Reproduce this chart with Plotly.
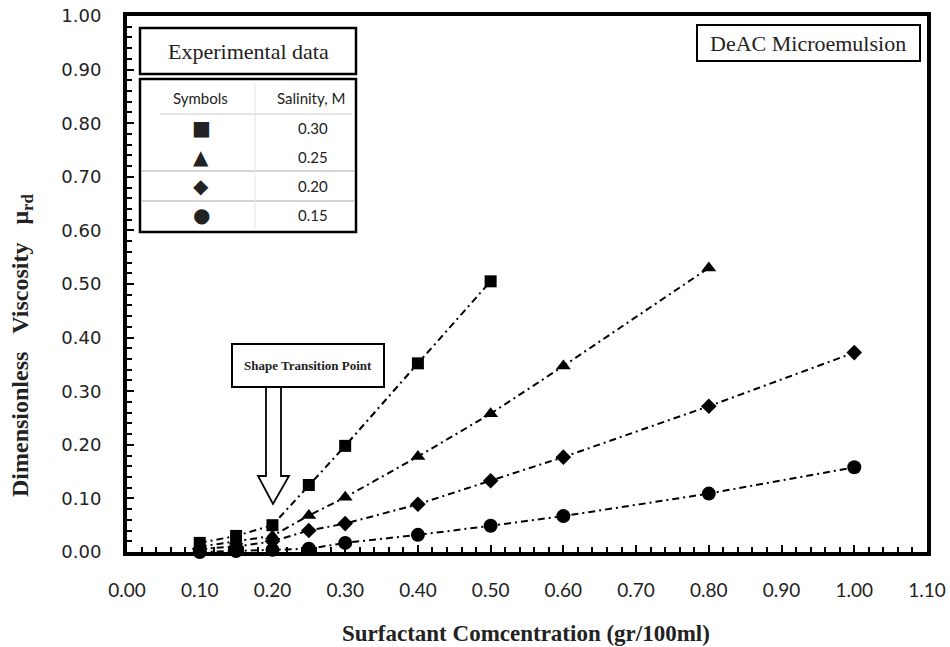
import plotly.graph_objects as go

# ---- data ----
x_030 = [0.10, 0.15, 0.20, 0.25, 0.30, 0.40, 0.50]
y_030 = [0.017, 0.030, 0.050, 0.125, 0.198, 0.352, 0.505]

x_025 = [0.10, 0.15, 0.20, 0.25, 0.30, 0.40, 0.50, 0.60, 0.80]
y_025 = [0.010, 0.020, 0.030, 0.068, 0.102, 0.178, 0.258, 0.347, 0.530]

x_020 = [0.10, 0.15, 0.20, 0.25, 0.30, 0.40, 0.50, 0.60, 0.80, 1.00]
y_020 = [0.006, 0.010, 0.020, 0.040, 0.053, 0.089, 0.133, 0.177, 0.272, 0.372]

x_015 = [0.10, 0.15, 0.20, 0.25, 0.30, 0.40, 0.50, 0.60, 0.80, 1.00]
y_015 = [0.000, 0.002, 0.004, 0.006, 0.017, 0.032, 0.049, 0.067, 0.109, 0.158]

salinity_labels = ["0.30", "0.25", "0.20", "0.15"]
symbols = ["square", "triangle-up", "diamond", "circle"]
symbol_chars = ["■", "▲", "◆", "●"]
x_ticks = [0.0, 0.1, 0.2, 0.3, 0.4, 0.5, 0.6, 0.7, 0.8, 0.9, 1.0, 1.1]
y_ticks = [0.0, 0.1, 0.2, 0.3, 0.4, 0.5, 0.6, 0.7, 0.8, 0.9, 1.0]

W, H = 950, 647
L, R, T, B = 127, 23, 16, 95
pw, ph = W - L - R, H - T - B


def px(x):
    return (x - L) / pw


def py(y):
    return (H - B - y) / ph


fig = go.Figure()
series = [(x_030, y_030), (x_025, y_025), (x_020, y_020), (x_015, y_015)]
sizes = [12, 13, 12, 14]
for (xs, ys), sym, sz, lab in zip(series, symbols, sizes, salinity_labels):
    fig.add_trace(go.Scatter(
        x=xs, y=ys, mode="lines+markers", name=lab,
        line=dict(color="black", width=2, dash="7px,4px,2px,4px"),
        marker=dict(symbol=sym, size=sz, color="black"),
        cliponaxis=False,
    ))

serif = "Liberation Serif, Times New Roman, serif"

fig.update_xaxes(
    range=[0, 1.1], tickvals=x_ticks, ticktext=[f"{v:.2f}" for v in x_ticks],
    ticks="inside", ticklen=7, tickwidth=2, tickcolor="black",
    minor=dict(ticks="inside", ticklen=5, tickwidth=2, tickcolor="black", dtick=0.02),
    showline=True, linewidth=4, linecolor="black", mirror=True,
    showgrid=False, zeroline=False, ticklabelstandoff=18, automargin=False,
    tickfont=dict(family="Lato, sans-serif", size=19, color="#222"),
)
fig.update_yaxes(
    range=[0, 1.0], tickvals=y_ticks, ticktext=[f"{v:.2f}" for v in y_ticks],
    ticks="inside", ticklen=7, tickwidth=2, tickcolor="black",
    minor=dict(ticks="inside", ticklen=5, tickwidth=2, tickcolor="black", dtick=0.02),
    showline=True, linewidth=4, linecolor="black", mirror=True,
    showgrid=False, zeroline=False, ticklabelstandoff=18, automargin=False,
    tickfont=dict(family="DejaVu Sans, sans-serif", size=18, color="#222"),
)

shapes = []
# Experimental data box
shapes.append(dict(type="rect", xref="paper", yref="paper",
                   x0=px(140), x1=px(356), y0=py(74), y1=py(28),
                   line=dict(color="black", width=2.5), fillcolor="white"))
# table box
shapes.append(dict(type="rect", xref="paper", yref="paper",
                   x0=px(140), x1=px(356), y0=py(232), y1=py(79),
                   line=dict(color="black", width=2.5), fillcolor="white"))
# table inner lines
shapes.append(dict(type="line", xref="paper", yref="paper",
                   x0=px(160), x1=px(352), y0=py(114), y1=py(114),
                   line=dict(color="#cccccc", width=1)))
for yy in [171, 201]:
    shapes.append(dict(type="line", xref="paper", yref="paper",
                       x0=px(142), x1=px(354), y0=py(yy), y1=py(yy),
                       line=dict(color="#aaaaaa", width=1)))
shapes.append(dict(type="line", xref="paper", yref="paper",
                   x0=px(255), x1=px(255), y0=py(83), y1=py(229),
                   line=dict(color="#e4e4e4", width=1)))
# DeAC box
shapes.append(dict(type="rect", xref="paper", yref="paper",
                   x0=px(697), x1=px(920), y0=py(61), y1=py(25),
                   line=dict(color="black", width=2), fillcolor="white"))
# Shape transition box
shapes.append(dict(type="rect", xref="paper", yref="paper",
                   x0=px(232), x1=px(384), y0=py(387), y1=py(344),
                   line=dict(color="black", width=2), fillcolor="white"))
# Hollow arrow
pts = [(266, 387), (281, 387), (281, 476), (289, 476), (273, 504),
       (258, 476), (266, 476)]
path = "M " + " L ".join(f"{px(a):.5f},{py(b):.5f}" for a, b in pts) + " Z"
shapes.append(dict(type="path", xref="paper", yref="paper", path=path,
                   line=dict(color="black", width=1.8), fillcolor="white"))


def note(xp, yp, text, family, size, angle=0):
    return dict(x=px(xp), y=py(yp), xref="paper", yref="paper", text=text,
                showarrow=False, xanchor="center", yanchor="middle", textangle=angle,
                font=dict(family=family, size=size, color="#222"))


annotations = [
    note(526, 633, "<b>Surfactant Comcentration (gr/100ml)</b>", serif, 23),
    note(22, 345, "<b>Dimensionless&nbsp;&nbsp;&nbsp;Viscosity&nbsp;&nbsp;&nbsp;μ<sub>rd</sub></b>",
         serif, 24, angle=-90),
    note(248, 51, "Experimental data", serif, 22),
    note(808, 43, "DeAC Microemulsion", serif, 22),
    note(308, 365, "<b>Shape Transition Point</b>", serif, 13),
    note(200, 98, "Symbols", "Lato, sans-serif", 15),
    note(311, 98, "Salinity, M", "Lato, sans-serif", 15),
]
row_y = [128, 157, 186, 215]
for ch, lab, yy in zip(symbol_chars, salinity_labels, row_y):
    annotations.append(note(201, yy, ch, "DejaVu Sans", 20))
    annotations.append(note(313, yy, lab, "Lato, sans-serif", 15))

fig.update_layout(
    width=W, height=H, margin=dict(l=L, r=R, t=T, b=B, autoexpand=False),
    paper_bgcolor="white", plot_bgcolor="white", showlegend=False,
    shapes=shapes, annotations=annotations,
)

fig.write_html("out.html", config={"displayModeBar": False},
               post_script="document.body.style.margin='0';")
